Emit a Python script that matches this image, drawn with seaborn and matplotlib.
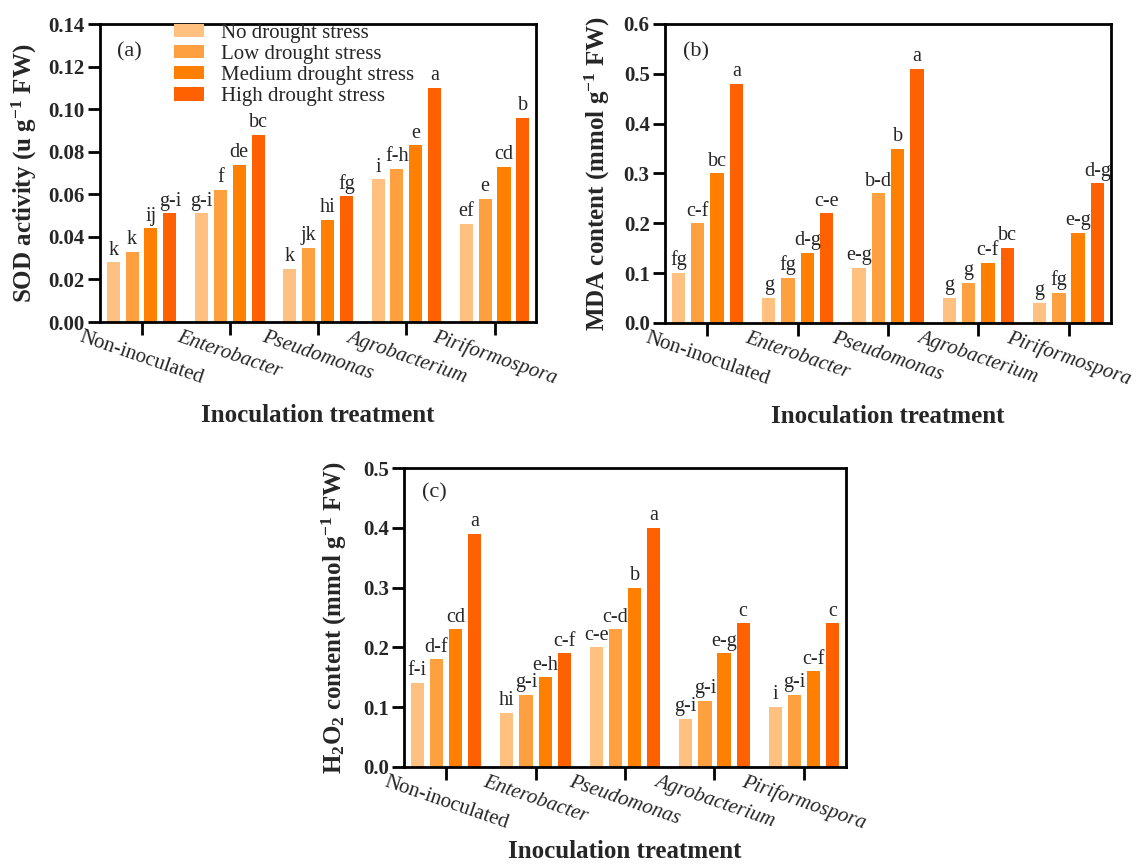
import numpy as np
import pandas as pd
import seaborn as sns
import matplotlib.pyplot as plt
from matplotlib.ticker import FormatStrFormatter

sns.set_style('ticks')
# 衬线字体，接近原图的 Times 风格
plt.rcParams['font.family'] = ['Liberation Serif', 'DejaVu Serif']
plt.rcParams['mathtext.fontset'] = 'custom'
plt.rcParams['mathtext.rm'] = 'Liberation Serif'
plt.rcParams['mathtext.bf'] = 'Liberation Serif:bold'
plt.rcParams['mathtext.it'] = 'Liberation Serif:italic'
plt.rcParams['mathtext.default'] = 'bf'

treatments = ['Non-inoculated', 'Enterobacter', 'Pseudomonas', 'Agrobacterium', 'Piriformospora']
stress_levels = ['No drought stress', 'Low drought stress', 'Medium drought stress', 'High drought stress']
colors = ['#FFC080', '#FFA040', '#FF8000', '#FF6000']

# 每行一个接种处理，每列一个干旱水平
sod = [[0.028, 0.033, 0.044, 0.051],
       [0.051, 0.062, 0.074, 0.088],
       [0.025, 0.035, 0.048, 0.059],
       [0.067, 0.072, 0.083, 0.110],
       [0.046, 0.058, 0.073, 0.096]]
sod_letters = [['k', 'k', 'ij', 'g-i'],
               ['g-i', 'f', 'de', 'bc'],
               ['k', 'jk', 'hi', 'fg'],
               ['i', 'f-h', 'e', 'a'],
               ['ef', 'e', 'cd', 'b']]

mda = [[0.10, 0.20, 0.30, 0.48],
       [0.05, 0.09, 0.14, 0.22],
       [0.11, 0.26, 0.35, 0.51],
       [0.05, 0.08, 0.12, 0.15],
       [0.04, 0.06, 0.18, 0.28]]
mda_letters = [['fg', 'c-f', 'bc', 'a'],
               ['g', 'fg', 'd-g', 'c-e'],
               ['e-g', 'b-d', 'b', 'a'],
               ['g', 'g', 'c-f', 'bc'],
               ['g', 'fg', 'e-g', 'd-g']]

h2o2 = [[0.14, 0.18, 0.23, 0.39],
        [0.09, 0.12, 0.15, 0.19],
        [0.20, 0.23, 0.30, 0.40],
        [0.08, 0.11, 0.19, 0.24],
        [0.10, 0.12, 0.16, 0.24]]
h2o2_letters = [['f-i', 'd-f', 'cd', 'a'],
                ['hi', 'g-i', 'e-h', 'c-f'],
                ['c-e', 'c-d', 'b', 'a'],
                ['g-i', 'g-i', 'e-g', 'c'],
                ['i', 'g-i', 'c-f', 'c']]


def to_long(values):
    rows = []
    for t, vals in zip(treatments, values):
        for s, v in zip(stress_levels, vals):
            rows.append((t, s, v))
    return pd.DataFrame(rows, columns=['treatment', 'stress', 'value'])


def draw_panel(ax, values, letters, ymax, ystep, fmt, ylabel, tag, ylab_x, xlab_y, tag_y,
               show_legend=False):
    df = to_long(values)
    sns.barplot(data=df, x='treatment', y='value', hue='stress',
                order=treatments, hue_order=stress_levels, palette=colors,
                saturation=1, width=0.855, gap=0.31, errorbar=None, linewidth=0,
                legend=show_legend, ax=ax)

    # 显著性字母
    for j, cont in enumerate(ax.containers):
        ax.bar_label(cont, labels=[letters[i][j] for i in range(len(treatments))],
                     padding=2, fontsize=14.5)

    ax.set_xlim(-0.47, 4.47)
    ax.set_ylim(0, ymax)
    ax.set_yticks(np.arange(0, ymax + ystep / 2, ystep))
    ax.yaxis.set_major_formatter(FormatStrFormatter(fmt))
    ax.set_xticks(range(len(treatments)))
    ax.set_xticklabels(treatments, rotation=-19, ha='center', fontsize=15)
    for lbl in ax.get_xticklabels()[1:]:
        lbl.set_fontstyle('italic')
    ax.tick_params(axis='both', width=2, length=9, direction='out', color='black')
    ax.tick_params(axis='y', labelsize=15, pad=2)
    ax.tick_params(axis='x', pad=-5)
    plt.setp(ax.get_yticklabels(), fontweight='bold')

    for sp in ax.spines.values():
        sp.set_visible(True)
        sp.set_linewidth(2)
        sp.set_color('black')

    ax.set_xlabel('Inoculation treatment', fontsize=18, fontweight='bold')
    ax.xaxis.set_label_coords(0.5, xlab_y)
    ax.set_ylabel(ylabel, fontsize=18, fontweight='bold')
    ax.yaxis.set_label_coords(ylab_x, 0.5)
    ax.text(0.04, tag_y, tag, transform=ax.transAxes, fontsize=16, va='center')

    if show_legend:
        handles = ax.get_legend().legend_handles
        ax.legend(handles, stress_levels, loc='upper left', bbox_to_anchor=(0.17, 1.0),
                  frameon=False, fontsize=15, handlelength=1.45, handleheight=0.6,
                  handletextpad=0.8, labelspacing=0.1, borderpad=0, borderaxespad=0)


fig = plt.figure(figsize=(11.42, 8.64), dpi=100)
ax_a = fig.add_axes([0.0876, 0.6273, 0.3818, 0.3449])
ax_b = fig.add_axes([0.5823, 0.6262, 0.3905, 0.3461])
ax_c = fig.add_axes([0.3538, 0.1123, 0.3870, 0.3460])

draw_panel(ax_a, sod, sod_letters, 0.14, 0.02, '%.2f',
           r'SOD activity (u g$^{-1}$ FW)', '(a)', -0.141, -0.275, 0.906, show_legend=True)
draw_panel(ax_b, mda, mda_letters, 0.6, 0.1, '%.1f',
           r'MDA content (mmol g$^{-1}$ FW)', '(b)', -0.118, -0.275, 0.906)
draw_panel(ax_c, h2o2, h2o2_letters, 0.5, 0.1, '%.1f',
           r'H$_2$O$_2$ content (mmol g$^{-1}$ FW)', '(c)', -0.124, -0.245, 0.916)

fig.savefig('out.png', dpi=100)
